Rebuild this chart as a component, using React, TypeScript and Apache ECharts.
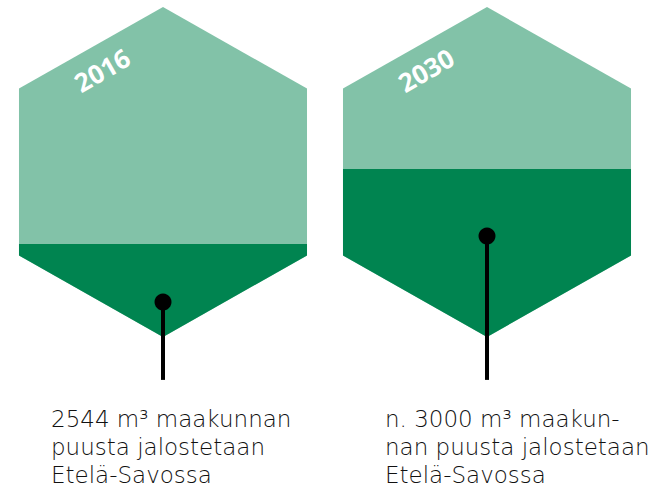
import React, { useEffect, useRef } from "react";
import * as echarts from "echarts";

const years = ["2016", "2030"];
// dark-green fill level as share of the hexagon height
const fillLevels = [0.282, 0.509];
// marker (dot) level as share of the hexagon height
const markerLevels = [0.106, 0.306];
// where the marker stem ends (below the hexagon)
const stemEnd = -0.13;
const captions = [
  ["2544 m³ maakunnan", "puusta jalostetaan", "Etelä-Savossa"],
  ["n. 3000 m³ maakun-", "nan puusta jalostetaan", "Etelä-Savossa"],
];
const captionLeft = [51, 385];

const LIGHT = "#82c2a8";
const DARK = "#008450";

function clipBelow(points: number[][], yLine: number): number[][] {
  const out: number[][] = [];
  const n = points.length;
  for (let i = 0; i < n; i++) {
    const a = points[i];
    const b = points[(i + 1) % n];
    const aIn = a[1] >= yLine;
    const bIn = b[1] >= yLine;
    if (aIn) out.push(a);
    if (aIn !== bIn) {
      const t = (yLine - a[1]) / (b[1] - a[1]);
      out.push([a[0] + t * (b[0] - a[0]), yLine]);
    }
  }
  return out;
}

export default function App() {
  const ref = useRef<HTMLDivElement>(null);
  useEffect(() => {
    if (!ref.current) return;
    const chart = echarts.init(ref.current, undefined, { renderer: "svg" });
    const data = years.map((y, i) => [i, fillLevels[i], markerLevels[i]]);
    const captionEls: any[] = [];
    captions.forEach((lines, i) => {
      lines.forEach((line, j) => {
        captionEls.push({
          type: "text",
          x: captionLeft[i],
          y: 419 + j * 28,
          style: {
            text: line,
            fill: "#111",
            font: "300 23px 'DejaVu Sans', sans-serif",
            verticalAlign: "middle",
            align: "left",
          },
        });
      });
    });
    chart.setOption({
      animation: false,
      grid: { left: 1, right: 14, top: 7, bottom: 153 },
      xAxis: { type: "category", data: years, show: false },
      yAxis: { type: "value", min: 0, max: 1, show: false, splitLine: { show: false } },
      series: [
        {
          type: "custom",
          data,
          encode: { x: 0, y: 1 },
          renderItem: (params: any, api: any) => {
            const idx = api.value(0);
            const fill = api.value(1);
            const marker = api.value(2);
            const top = api.coord([idx, 1]);
            const bot = api.coord([idx, 0]);
            const cx = top[0];
            const H = bot[1] - top[1];
            const hw = H * 0.4364;
            const s = H * 0.247;
            const hex = [
              [cx, top[1]],
              [cx + hw, top[1] + s],
              [cx + hw, bot[1] - s],
              [cx, bot[1]],
              [cx - hw, bot[1] - s],
              [cx - hw, top[1] + s],
            ];
            const yFill = api.coord([idx, fill])[1];
            const dark = clipBelow(hex, yFill);
            const m = api.coord([idx, marker]);
            const stemY = api.coord([idx, stemEnd])[1];
            return {
              type: "group",
              children: [
                { type: "polygon", shape: { points: hex }, style: { fill: LIGHT } },
                { type: "polygon", shape: { points: dark }, style: { fill: DARK } },
                {
                  type: "line",
                  shape: { x1: m[0], y1: m[1], x2: m[0], y2: stemY },
                  style: { stroke: "#000", lineWidth: 4 },
                },
                { type: "circle", shape: { cx: m[0], cy: m[1], r: 8.5 }, style: { fill: "#000" } },
                {
                  type: "text",
                  x: cx - 61,
                  y: top[1] + 63,
                  rotation: Math.PI / 6,
                  style: {
                    text: years[idx],
                    fill: "#fff",
                    font: "bold 26px 'Open Sans', Lato, sans-serif",
                    align: "center",
                    verticalAlign: "middle",
                  },
                },
              ],
            };
          },
        },
      ],
      graphic: captionEls,
    });
    return () => chart.dispose();
  }, []);
  return <div ref={ref} style={{ width: 663, height: 490, position: "absolute", left: 0, top: 0 }} />;
}
